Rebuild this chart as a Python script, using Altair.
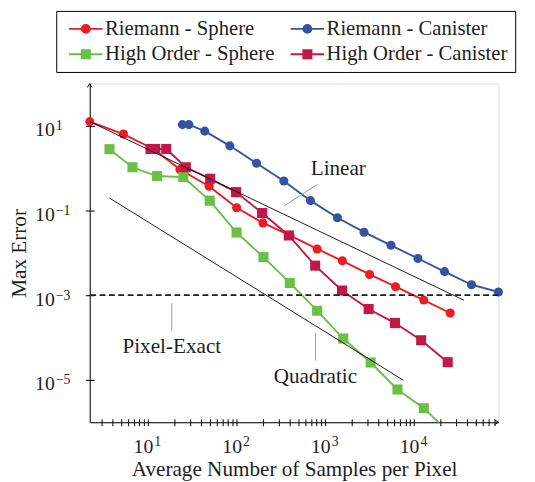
import altair as alt
import pandas as pd

# ---------------- data ----------------
series_names = ["Riemann - Sphere", "Riemann - Canister", "High Order - Sphere", "High Order - Canister"]
series_colors = ["#ed1c24", "#3553a3", "#6abf45", "#c1184a"]

rs_x = [2.21, 5.3, 11.7, 23, 49, 100, 198, 400, 809, 1556, 3162, 6200, 12900, 25600]
rs_y = [12.6, 6.4, 2.8, 0.93, 0.375, 0.116, 0.051, 0.026, 0.0124, 0.0065, 0.0031, 0.00159, 0.00077, 0.00038]

rc_x = [24.5, 29, 43.8, 84, 168, 341, 681, 1370, 2735, 5510, 11080, 22100, 44500, 89600]
rc_y = [10.7, 10.7, 7.5, 3.37, 1.31, 0.499, 0.171, 0.0677, 0.0308, 0.0151, 0.00737, 0.00361, 0.00177, 0.00119]

hs_x = [3.69, 6.7, 12.7, 25.1, 49.8, 100, 201, 398, 809, 1596, 3245, 6520, 12900, 25600]
hs_y = [2.81, 1.05, 0.652, 0.617, 0.171, 0.0303, 0.00794, 0.00195, 0.000431, 9.5e-5, 2.58e-5, 5.95e-6, 2.15e-6, 5.4e-7]

hc_x = [10.7, 12.1, 16.1, 26.8, 50.4, 98.7, 194, 388, 769, 1545, 3080, 6110, 12050, 24000]
hc_y = [2.84, 2.84, 2.84, 1.05, 0.564, 0.272, 0.0875, 0.0258, 0.00499, 0.00129, 0.000472, 0.00022, 8.65e-5, 2.62e-5]

linear_x = [2.21, 36600]
linear_y = [12.6, 7.6e-4]
quad_x = [3.69, 7600]
quad_y = [0.197, 9.8e-6]

pixel_exact = 1e-3

pin_x = [344, 18.6, 774]
pin_y = [0.1285, 6.52e-4, 1.29e-4]
pin_x2 = [820, 18.6, 774]
pin_y2 = [0.418, 1.48e-4, 2.87e-5]
note_text = ["Linear", "Pixel-Exact", "Quadratic"]
note_x = [1403, 18.6, 774]
note_y = [0.933, 6.08e-5, 1.17e-5]

x_domain = [2.21, 89600]
y_domain = [1e-6, 100]
x_ticks = [m * 10 ** d for d in range(0, 5) for m in range(1, 10)
           if x_domain[0] <= m * 10 ** d <= x_domain[1]]
y_ticks = [10, 0.1, 0.001, 0.00001]

# legend glyphs (unit = 5 px): a line stub plus a marker drawn as nested strokes
CIRCLE_STUB = ("M-3.4,0H3.4"
               "M0.2,0A0.2,0.2,0,1,1,-0.2,0A0.2,0.2,0,1,1,0.2,0Z"
               "M0.5,0A0.5,0.5,0,1,1,-0.5,0A0.5,0.5,0,1,1,0.5,0Z"
               "M0.8,0A0.8,0.8,0,1,1,-0.8,0A0.8,0.8,0,1,1,0.8,0Z")
SQUARE_STUB = ("M-3.4,0H3.4"
               "M-0.2,-0.2H0.2V0.2H-0.2Z"
               "M-0.5,-0.5H0.5V0.5H-0.5Z"
               "M-0.82,-0.82H0.82V0.82H-0.82Z")
legend_paths = [CIRCLE_STUB, CIRCLE_STUB, SQUARE_STUB, SQUARE_STUB]

# ---------------- frames ----------------
rows = []
for name, xs_, ys_ in zip(series_names, [rs_x, rc_x, hs_x, hc_x], [rs_y, rc_y, hs_y, hc_y]):
    for i, (a, b) in enumerate(zip(xs_, ys_)):
        rows.append({"series": name, "x": a, "y": b, "order": i})
df = pd.DataFrame(rows)

ref_df = pd.DataFrame(
    [{"line": "linear", "x": a, "y": b} for a, b in zip(linear_x, linear_y)]
    + [{"line": "quadratic", "x": a, "y": b} for a, b in zip(quad_x, quad_y)]
)
pin_df = pd.DataFrame({"x": pin_x, "y": pin_y, "x2": pin_x2, "y2": pin_y2})
note_df = pd.DataFrame({"x": note_x, "y": note_y, "text": note_text})
dash_df = pd.DataFrame({"y": [pixel_exact]})
xarrow_df = pd.DataFrame({"x": [x_domain[1]], "y": [y_domain[0]]})
yarrow_df = pd.DataFrame({"x": [x_domain[0]], "y": [y_domain[1]]})

# ---------------- style ----------------
FONT = "Liberation Serif"
TXT = "#1e1e1e"
xs = alt.Scale(type="log", domain=x_domain, nice=False)
ys = alt.Scale(type="log", domain=y_domain, nice=False)
cscale = alt.Scale(domain=series_names, range=series_colors)

major = "abs(log(datum.value)/LN10 - round(log(datum.value)/LN10)) < 0.001"

x_axis_main = alt.Axis(
    orient="bottom", values=x_ticks, labelExpr=f"({major}) ? '10' : ''",
    labelFont=FONT, labelFontSize=20, labelColor=TXT, labelAlign="right",
    labelBaseline="top", labelOffset=5, labelPadding=11, labelOverlap=False,
    labelFlush=False, tickSize=3.5, tickColor="black", tickWidth=1,
    domainColor="black", domainWidth=1, grid=False,
    title="Average Number of Samples per Pixel", titleFont=FONT, titleFontSize=21.5,
    titleFontWeight="normal", titleColor=TXT, titleBaseline="alphabetic", titleY=54.5,
)
x_axis_exp = alt.Axis(
    orient="bottom", values=x_ticks,
    labelExpr=f"({major}) ? '' + round(log(datum.value)/LN10) : ''",
    labelFont=FONT, labelFontSize=14, labelColor=TXT, labelAlign="left",
    labelBaseline="top", labelOffset=6, labelPadding=12.5, labelOverlap=False,
    labelFlush=False, tickSize=3.5, tickColor="black", tickWidth=1, offset=-3.5,
    domain=False, grid=False, title=None,
)
y_axis_main = alt.Axis(
    orient="left", values=y_ticks, labelExpr="'10'",
    labelFont=FONT, labelFontSize=20, labelColor=TXT, labelAlign="right",
    labelBaseline="middle", labelOffset=4, labelPadding=31.5, labelOverlap=False,
    labelFlush=False, tickSize=4.5, tickColor="black", tickWidth=1,
    domainColor="black", domainWidth=1, grid=False,
    title="Max Error", titleFont=FONT, titleFontSize=21.5, titleFontWeight="normal",
    titleColor=TXT, titleAngle=270, titleX=-71.5, titleY=172, titleBaseline="middle",
    titleAlign="center",
)
y_axis_exp = alt.Axis(
    orient="left", values=y_ticks,
    labelExpr="(datum.value < 1 ? '\u2212' : '') + round(abs(log(datum.value)/LN10))",
    labelFont=FONT, labelFontSize=14, labelColor=TXT, labelAlign="left",
    labelBaseline="middle", labelOffset=0, labelPadding=35, labelOverlap=False,
    labelFlush=False, tickSize=4.5, tickColor="black", tickWidth=1, offset=-4.5,
    domain=False, grid=False, title=None,
)

legend = alt.Legend(
    orient="none", legendX=-34, legendY=-73.7, columns=2, direction="horizontal",
    title=None, padding=7.5, strokeColor="black", labelFont=FONT, labelFontSize=21,
    labelFontWeight="normal", labelColor=TXT, labelLimit=400, labelOffset=9,
    symbolSize=100, symbolOffset=12, symbolStrokeWidth=2, columnPadding=10,
    rowPadding=4, symbolOpacity=1,
)

base = alt.Chart(df)
X = lambda ax=None: alt.X("x:Q", scale=xs, axis=ax)
Y = lambda ax=None: alt.Y("y:Q", scale=ys, axis=ax)

legend_layer = base.transform_filter("false").mark_point(
    filled=False, size=100, strokeWidth=2, opacity=1
).encode(
    x=X(), y=Y(),
    color=alt.Color("series:N", scale=cscale, legend=legend),
    shape=alt.Shape("series:N", scale=alt.Scale(domain=series_names, range=legend_paths), legend=legend),
)
lines = base.mark_line(strokeWidth=1.9, clip=True).encode(
    x=X(x_axis_main), y=Y(y_axis_main),
    color=alt.Color("series:N", scale=cscale, legend=None),
    order="order:Q",
)
circles = base.transform_filter(
    alt.FieldOneOfPredicate(field="series", oneOf=series_names[:2])
).mark_circle(size=85, opacity=1).encode(
    x=X(x_axis_exp), y=Y(y_axis_exp),
    color=alt.Color("series:N", scale=cscale, legend=None),
)
squares = base.transform_filter(
    alt.FieldOneOfPredicate(field="series", oneOf=series_names[2:])
).transform_filter(alt.datum.y >= y_domain[0]).mark_square(size=105, opacity=1).encode(
    x=X(), y=Y(),
    color=alt.Color("series:N", scale=cscale, legend=None),
)
refs = alt.Chart(ref_df).mark_line(color="black", strokeWidth=0.9).encode(
    x=X(), y=Y(), detail="line:N"
)
dash = alt.Chart(dash_df).mark_rule(color=TXT, strokeWidth=1.8, strokeDash=[6, 3.5]).encode(
    y=Y()
)
pins = alt.Chart(pin_df).mark_rule(color="#9a9a9a", strokeWidth=1).encode(
    x=X(), y=Y(), x2="x2:Q", y2="y2:Q"
)
notes = alt.Chart(note_df).mark_text(
    font=FONT, fontSize=21.5, color=TXT, baseline="middle", align="center"
).encode(x=X(), y=Y(), text="text:N")
xarrow = alt.Chart(xarrow_df).mark_point(
    shape="M-1,-0.6L0,0L-1,0.6", filled=False, size=64, strokeWidth=1, color="black", opacity=1
).encode(x=X(), y=Y())
yarrow = alt.Chart(yarrow_df).mark_point(
    shape="M-0.6,1L0,0L0.6,1", filled=False, size=64, strokeWidth=1, color="black", opacity=1
).encode(x=X(), y=Y())

chart = alt.layer(
    legend_layer, lines, circles, squares, refs, dash, pins, notes, xarrow, yarrow
).resolve_axis(x="independent", y="independent").properties(
    width=415, height=344,
    padding={"left": 83, "top": 73, "right": 29, "bottom": 57},
    autosize=alt.AutoSizeParams(type="none"),
).configure_view(stroke=None).configure(font=FONT).configure_legend(
    labelFont=FONT, labelFontSize=21, labelFontWeight="normal"
)

chart.save("out.html", embed_options={"renderer": "svg", "actions": False})
